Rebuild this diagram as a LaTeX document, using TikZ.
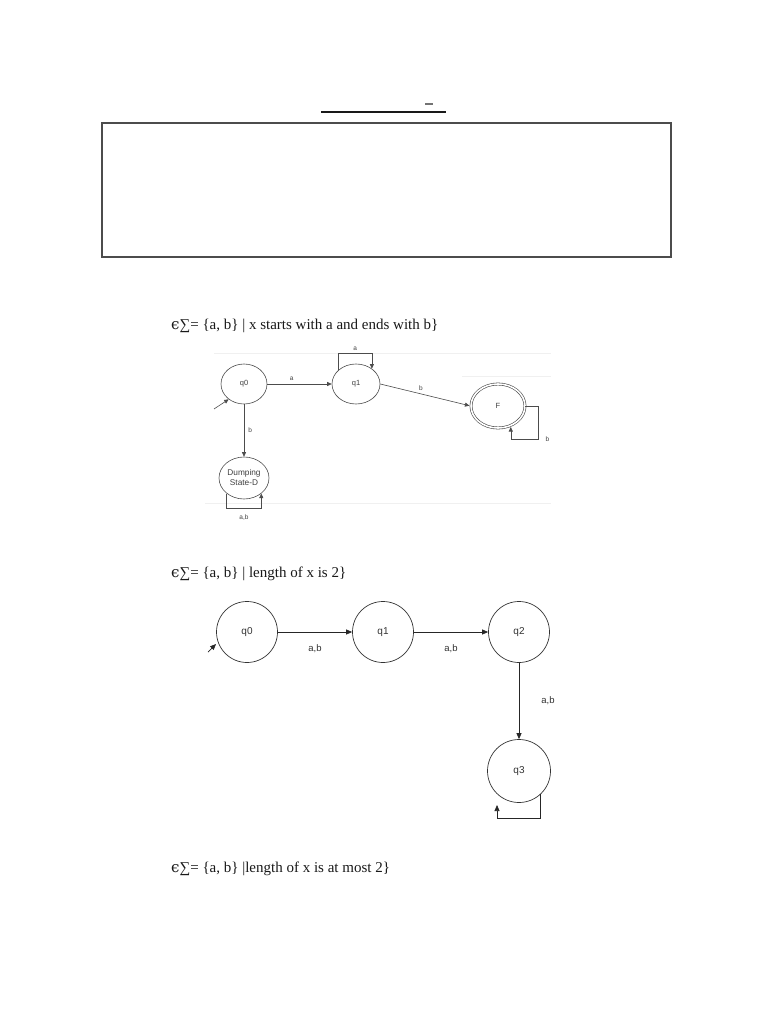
\documentclass[tikz,border=0pt]{standalone}
\usepackage{fontspec}
\setmainfont{Liberation Serif}
\newfontfamily\dsans{Liberation Sans}
\newfontfamily\epsfont{DejaVu Serif}
\usetikzlibrary{shapes.geometric,arrows.meta,calc}
\begin{document}
\begin{tikzpicture}[x=1pt,y=-1pt,
  st/.style={draw=black!70, line width=0.6pt, ellipse, inner sep=0pt,
    font=\dsans\fontsize{7.5}{8.5}\selectfont, text=black!75},
  lbl/.style={font=\dsans\fontsize{6.5}{7.5}\selectfont, text=black!75, inner sep=1pt},
  ln/.style={draw=black!70, line width=0.6pt},
  arr/.style={ln, -{Triangle[length=4.5pt,width=4pt]}},
  st2/.style={draw=black!80, line width=0.7pt, circle, inner sep=0pt, minimum size=61pt,
    font=\dsans\fontsize{10}{11}\selectfont, text=black!80},
  lbl2/.style={font=\dsans\fontsize{9.5}{10.5}\selectfont, text=black!80, inner sep=1pt},
  arr2/.style={draw=black!85, line width=0.7pt, -{Triangle[length=6pt,width=5pt]}},
  heading/.style={anchor=base west, font=\fontsize{15}{18}\selectfont, text=black!90, inner sep=0pt},
  faint/.style={draw=black!6, line width=0.6pt}
]
\useasboundingbox (0,0) rectangle (768,1024);
\fill[white] (0,0) rectangle (768,1024);

% title underline and box
\draw[line width=2pt, black!90] (321,112) -- (446,112);
\draw[line width=1.5pt, black!55] (425,104) -- (433,104);
\draw[line width=1.5pt, black!70] (102,123) rectangle (671,257);

% headings
\node[heading] (h1) at (171,329) {{\epsfont ϵ}∑= \{a, b\} | x starts with a and ends with b\}};
\node[heading] (h2) at (171,577) {{\epsfont ϵ}∑= \{a, b\} | length of x is 2\}};
\node[heading] (h3) at (171,872) {{\epsfont ϵ}∑= \{a, b\} |length of x is at most 2\}};

% faint screenshot lines of diagram 1
\draw[faint] (214,353) -- (551,353);
\draw[faint] (462,376) -- (551,376);
\draw[faint] (205,503) -- (551,503);

% diagram 1
\node[st, minimum width=46pt, minimum height=40pt] (a0) at (244,384) {q0};
\node[st, minimum width=48pt, minimum height=40pt] (a1) at (356,384) {q1};
\node[st, double, double distance=1.6pt, minimum width=54pt, minimum height=44pt] (aF) at (498,406) {F};
\node[st, minimum width=50pt, minimum height=42pt, align=center,
  font=\dsans\fontsize{8.3}{10}\selectfont] (aD) at (244,478) {Dumping\\State-D};

\coordinate (s1) at (214,409);
\draw[arr] (s1) -- (a0.-135);
\draw[arr] (a0.east) -- node[pos=0.38, above=2pt, lbl] {a} (a1.west);
\draw[arr] (a1.142) -- ++(0,-17) -| node[pos=0.25, above=1pt, lbl] {a} (a1.44);
\draw[arr, shorten >=1.3pt] (a1.east) -- node[pos=0.45, above=2pt, lbl] {b} (aF.west);
\draw[arr, shorten >=1.3pt] (aF.east) -- ++(13,0) -- ++(0,33) node[right=6pt, lbl] {b} -| (aF.-57);
\draw[arr] (a0.south) -- node[midway, right=3pt, lbl] {b} (aD.north);
\draw[arr] (aD.-138) -- ++(0,15) -| node[pos=0.25, below=5pt, lbl] {a,b} (aD.-42);

% diagram 2
\node[st2] (b0) at (247,632) {q0};
\node[st2] (b1) at (383,632) {q1};
\node[st2] (b2) at (519,632) {q2};
\node[st2, minimum size=63pt] (b3) at (519,771) {q3};

\coordinate (s2a) at (208,652);
\coordinate (s2b) at (216,644);
\draw[arr2] (s2a) -- (s2b);
\draw[arr2] (b0.east) -- node[midway, below=11pt, lbl2] {a,b} (b1.west);
\draw[arr2] (b1.east) -- node[midway, below=11pt, lbl2] {a,b} (b2.west);
\draw[arr2] (b2.south) -- node[midway, right=21pt, lbl2] {a,b} (b3.north);
\coordinate (l3) at (497,805);
\draw[arr2] (b3.-47) -- ++(0,24) -| (l3);
\end{tikzpicture}
\end{document}
